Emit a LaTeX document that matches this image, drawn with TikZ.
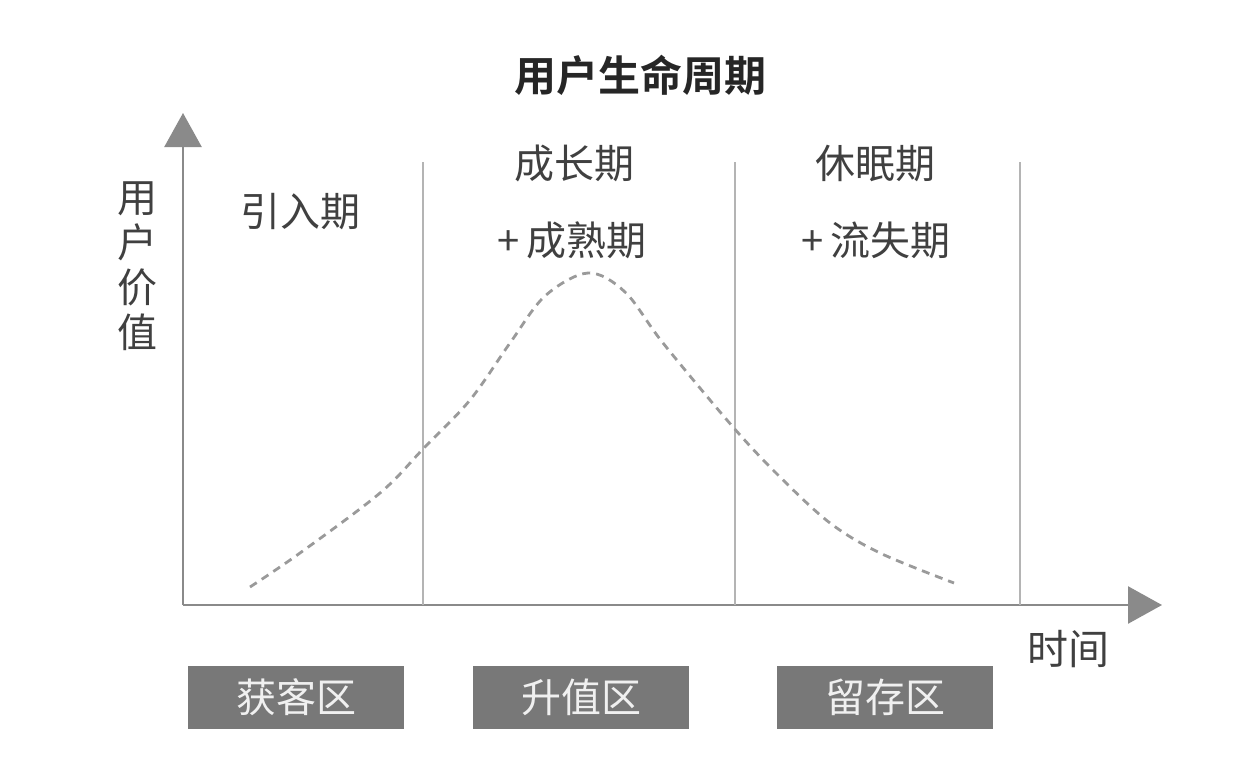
\documentclass[tikz,border=0pt]{standalone}
\usepackage{fontspec}
\setmainfont{Noto Sans CJK SC}[BoldFont={Noto Sans CJK SC Bold}]
\usetikzlibrary{arrows.meta,positioning}
\definecolor{axisgray}{HTML}{8A8A8A}
\definecolor{sepgray}{HTML}{B4B4B4}
\definecolor{curvegray}{HTML}{9A9A9A}
\definecolor{txtgray}{HTML}{404040}
\definecolor{boxgray}{HTML}{787878}
\definecolor{boxtxt}{HTML}{F0F0F0}

\begin{document}
\begin{tikzpicture}[x=1pt, y=-1pt,
			axis/.style={draw=axisgray, line width=2.5pt, -{Triangle[width=37pt,length=34pt]}},
			sep/.style={draw=sepgray, line width=1.8pt},
			phase/.style={font=\fontsize{40}{45}\selectfont, text=txtgray, inner sep=0pt, align=center},
			zone/.style={fill=boxgray, text=boxtxt, minimum width=216pt, minimum height=63pt, inner sep=0pt, font=\fontsize{40}{40}\selectfont},
			curve/.style={draw=curvegray, line width=2.8pt, dash pattern=on 8pt off 6pt}
			]
			\useasboundingbox (0,0) rectangle (1238,764);
			% Titolo
			\node[font=\fontsize{42}{42}\selectfont\bfseries, text=black!85, inner sep=0pt] (title) at (640,75) {用户生命周期};
			
			% Assi
			\coordinate (o) at (183,605);
			\coordinate (ytop) at (183,113);
			\coordinate (xend) at (1162,605);
			\draw[axis] (o) -- (ytop);
			\draw[axis] (o) -- (xend);
			\node[phase] (yval) at (137,266) {用\\户\\价\\值};
			\node[phase, font=\fontsize{41}{41}\selectfont] (time) at (1068,649) {时间};
			
			% Separatori
			\coordinate (s1) at (423,162);
			\coordinate (s2) at (735,162);
			\coordinate (s3) at (1020,162);
			\draw[sep] (s1) -- (s1 |- o);
			\draw[sep] (s2) -- (s2 |- o);
			\draw[sep] (s3) -- (s3 |- o);
			
			% Fasi
			\node[phase] (intro) at (300,212) {引入期};
			\node[phase] (grow) at (574,163) {成长期};
			\node[phase] (mature) at (572,240) {+\,成熟期};
			\node[phase] (sleep) at (875,163) {休眠期};
			\node[phase] (lost) at (876,240) {+\,流失期};
			
			% Curva
			\draw[curve] plot[smooth, tension=0.55] coordinates {(250,587) (300,553) (380,493) (423,449) (470,400) (510,343) (545,296) (588,273) (625,292) (663,343) (733,427) (780,477) (830,523) (880,553) (954,583)};
			
			% Zone
			\node[zone] (acq) at (296,697) {获客区};
			\node[zone] (grow2) at (581,697) {升值区};
			\node[zone] (keep) at (885,697) {留存区};
		\end{tikzpicture}
\end{document}
